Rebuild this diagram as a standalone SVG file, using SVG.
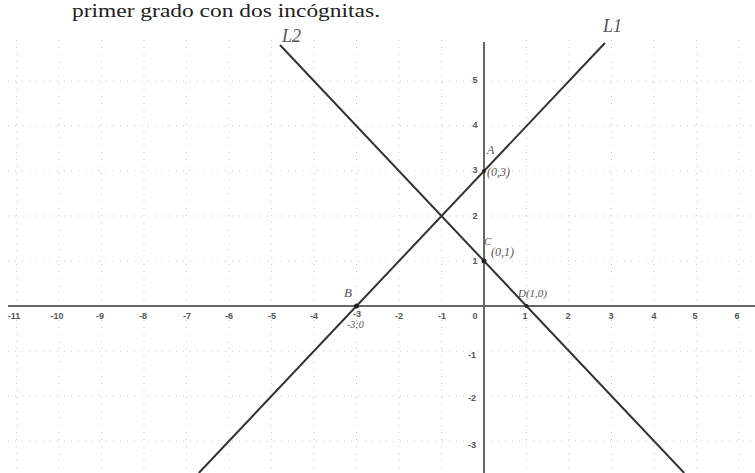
<svg xmlns="http://www.w3.org/2000/svg" width="755" height="473" viewBox="0 0 755 473">
<style>
.grid{stroke:#c8c8c8;stroke-width:1;stroke-dasharray:1 6;fill:none}
.axis{stroke:#666;stroke-width:2;fill:none}
.ln{stroke:#333;stroke-width:2;fill:none}
.tk{font-family:"Liberation Sans",Arial,sans-serif;font-size:9px;font-weight:bold;fill:#555;text-anchor:middle}
.hw{font-family:"Liberation Serif",serif;font-style:italic;fill:#555}
.pt{fill:#222}
</style>
<rect width="755" height="473" fill="#fff"/>
<text x="72" y="17" font-family="Liberation Serif,serif" font-size="18" fill="#222" textLength="308" lengthAdjust="spacingAndGlyphs">primer grado con dos incógnitas.</text>
<g id="grid">
<path class="grid" d="M16.5 40V473M59 40V473M101.5 40V473M144 40V473M186.5 40V473M229 40V473M271.5 40V473M314 40V473M356.5 40V473M399 40V473M441.5 40V473M526.5 40V473M569 40V473M611.5 40V473M654 40V473M696.5 40V473M739 40V473"/>
<path class="grid" d="M8 81H755M8 126H755M8 171H755M8 216H755M8 261H755M8 351H755M8 396H755M8 441H755"/>
</g>
<g id="axes">
<line class="axis" x1="8" y1="306" x2="755" y2="306"/>
<line class="axis" x1="484" y1="42" x2="484" y2="473"/>
</g>
<g id="ticks">
<text class="tk" x="14" y="319">-11</text>
<text class="tk" x="57" y="319">-10</text>
<text class="tk" x="100" y="319">-9</text>
<text class="tk" x="143" y="319">-8</text>
<text class="tk" x="187" y="319">-7</text>
<text class="tk" x="229" y="319">-6</text>
<text class="tk" x="272" y="319">-5</text>
<text class="tk" x="314" y="319">-4</text>
<text class="tk" x="357" y="317">-3</text>
<text class="tk" x="399" y="319">-2</text>
<text class="tk" x="442" y="319">-1</text>
<text class="tk" x="475" y="319">0</text>
<text class="tk" x="525" y="319">1</text>
<text class="tk" x="568" y="319">2</text>
<text class="tk" x="611" y="319">3</text>
<text class="tk" x="654" y="319">4</text>
<text class="tk" x="695" y="319">5</text>
<text class="tk" x="737" y="319">6</text>
<text class="tk" x="475" y="83">5</text>
<text class="tk" x="475" y="128">4</text>
<text class="tk" x="475" y="173">3</text>
<text class="tk" x="475" y="219">2</text>
<text class="tk" x="475" y="264">1</text>
<text class="tk" x="472" y="358">-1</text>
<text class="tk" x="472" y="401">-2</text>
<text class="tk" x="472" y="448">-3</text>
</g>
<g id="connectors">
<line id="d1" class="ln" x1="198.8" y1="473" x2="604.9" y2="43"/>
<line id="d2" class="ln" x1="280" y1="45" x2="684.2" y2="473"/>
</g>
<g id="pointB"><circle class="pt" cx="356.5" cy="306" r="2.5"/><text class="hw" x="344" y="297" font-size="13">B</text><text class="hw" x="347" y="328" font-size="10">-3;0</text></g>
<g id="pointA"><circle class="pt" cx="484" cy="171" r="2"/><text class="hw" x="487" y="154" font-size="12">A</text><text class="hw" x="487" y="176" font-size="12">(0,3)</text></g>
<g id="pointC"><circle class="pt" cx="484" cy="261" r="2.5"/><text class="hw" x="484" y="245" font-size="11">C</text><text class="hw" x="491" y="256" font-size="12">(0,1)</text></g>
<g id="pointD"><circle class="pt" cx="526.5" cy="306" r="2"/><text class="hw" x="518" y="297" font-size="11">D(1,0)</text></g>
<g id="labels">
<text class="hw" x="282" y="42" font-size="18" fill="#222">L2</text>
<text class="hw" x="603" y="32" font-size="18" fill="#222">L1</text>
</g>
</svg>
